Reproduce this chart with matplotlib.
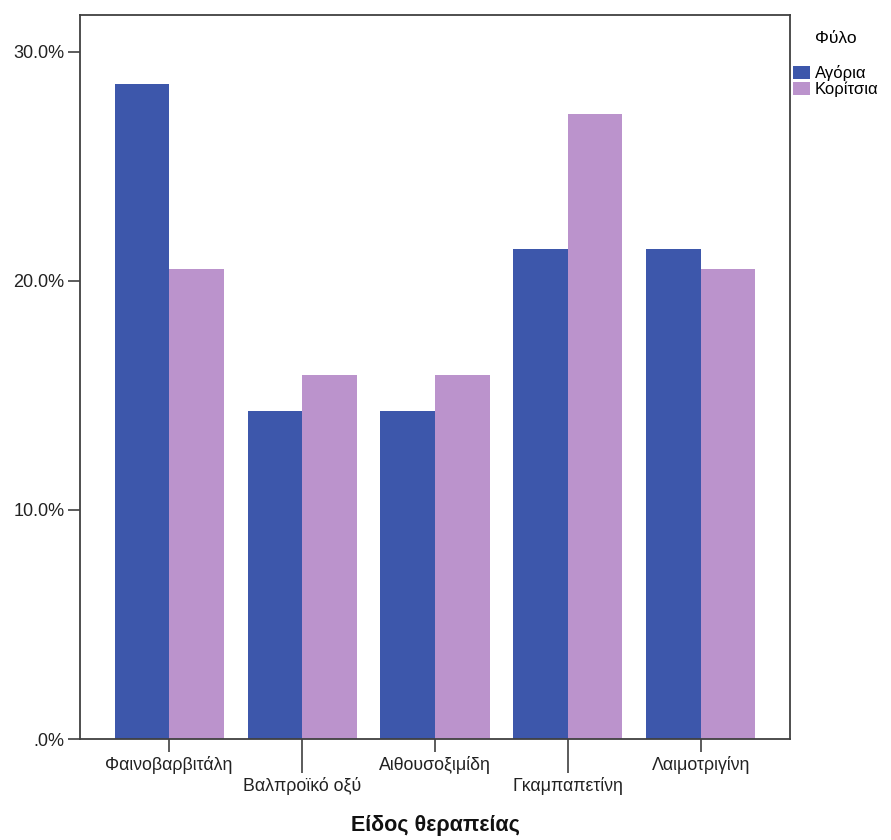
import numpy as np
import matplotlib
matplotlib.use("Agg")
import matplotlib.pyplot as plt
from matplotlib.ticker import FuncFormatter, FixedLocator

plt.rcParams['font.family'] = ['Liberation Sans', 'DejaVu Sans']

# Δεδομένα (ποσοστά ανά φύλο)
treatments = ['Φαινοβαρβιτάλη', 'Βαλπροϊκό οξύ', 'Αιθουσοξιμίδη',
              'Γκαμπαπετίνη', 'Λαιμοτριγίνη']
boys = [28.6, 14.3, 14.3, 21.4, 21.4]
girls = [20.5, 15.9, 15.9, 27.3, 20.5]
series_names = ['Αγόρια', 'Κορίτσια']
colors = ['#3d57ab', '#bb93cc']
y_ticks = [0, 10, 20, 30]

fig = plt.figure(figsize=(8.91, 8.40), dpi=100)
ax = fig.add_axes([80 / 891, 101 / 840, 710 / 891, 724 / 840])

x = np.arange(len(treatments))
w = 0.41
ax.bar(x - w / 2, boys, width=w, color=colors[0], label=series_names[0])
ax.bar(x + w / 2, girls, width=w, color=colors[1], label=series_names[1])

ax.set_xlim(-0.67, 4.67)
ax.set_ylim(0, 31.6)

# y άξονας
ax.set_yticks(y_ticks)
ax.yaxis.set_major_formatter(FuncFormatter(lambda v, p: '.0%' if v == 0 else f'{v:.1f}%'))
ax.tick_params(axis='y', length=9, width=1.2, color='#404040', pad=2,
               labelsize=13, labelcolor='#222222')

# x άξονας: κλιμακωτές ετικέτες
even = [i for i in x if i % 2 == 0]
odd = [i for i in x if i % 2 == 1]
ax.xaxis.set_major_locator(FixedLocator(even))
ax.set_xticklabels([treatments[i] for i in even])
ax.xaxis.set_minor_locator(FixedLocator(odd))
ax.set_xticklabels([treatments[i] for i in odd], minor=True)
ax.tick_params(axis='x', which='major', length=9.5, width=1.2, color='#404040',
               pad=3, labelsize=12.8, labelcolor='#222222')
ax.tick_params(axis='x', which='minor', length=24.5, width=1.2, color='#404040',
               pad=3, labelsize=12.8, labelcolor='#222222')

ax.set_xlabel('Είδος θεραπείας', fontsize=15.5, fontweight='bold', labelpad=14,
              color='#111111')

for s in ax.spines.values():
    s.set_color('#404040')
    s.set_linewidth(1.3)

leg = fig.legend(loc='upper left', bbox_to_anchor=(793 / 891, 1 - 31 / 840),
                 frameon=False, fontsize=12, title='Φύλο', title_fontsize=12.5,
                 handlelength=1.0, handleheight=0.8, handletextpad=0.3,
                 labelspacing=0.0, borderpad=0, borderaxespad=0)
leg._legend_box.sep = 14

fig.savefig('out.png', dpi=100)
